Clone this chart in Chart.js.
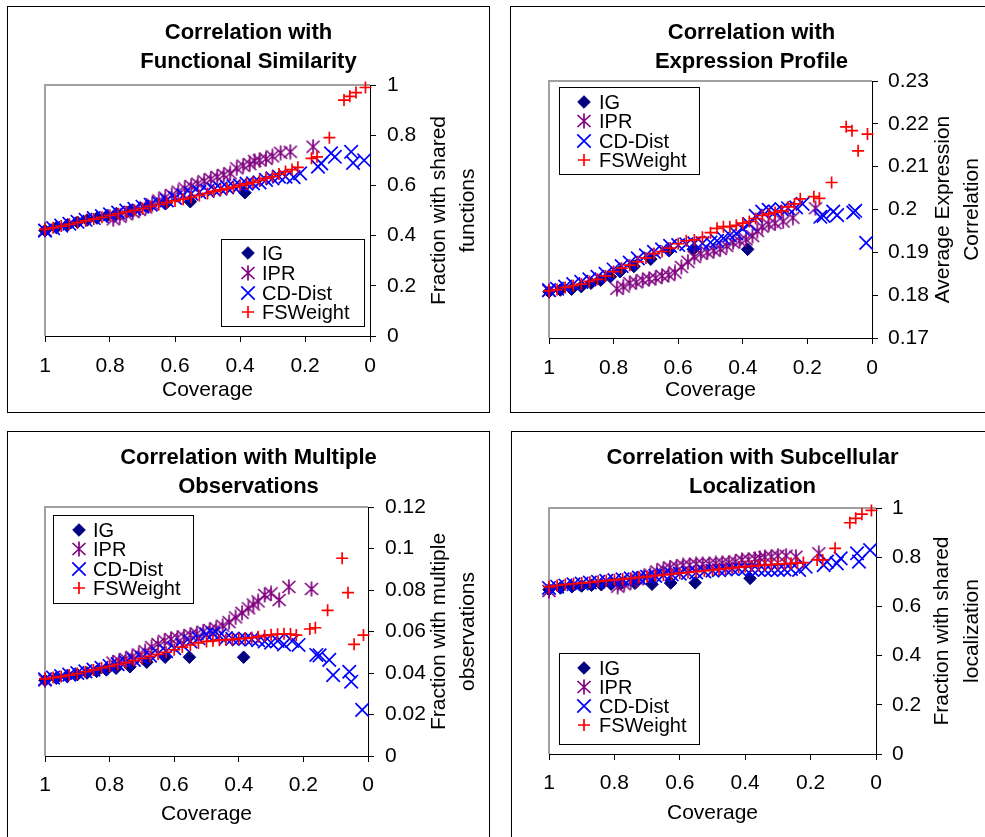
<!DOCTYPE html>
<html>
<head>
<meta charset="utf-8">
<title>Correlation with coverage</title>
<script src="https://cdn.jsdelivr.net/npm/chart.js@4.4.0/dist/chart.umd.min.js"></script>
<style>
  html, body { margin: 0; padding: 0; background: #fff; }
  body { width: 985px; height: 837px; position: relative; overflow: hidden; }
  .panel { position: absolute; border: 1px solid #000; background: #fff; }
  .panel canvas { display: block; }
</style>
</head>
<body>
<div class="panel" style="left:7px;top:6px;"><canvas id="c-func" width="481" height="405"></canvas></div>
<div class="panel" style="left:510px;top:6px;"><canvas id="c-expr" width="481" height="405"></canvas></div>
<div class="panel" style="left:7px;top:431px;"><canvas id="c-obs" width="481" height="405"></canvas></div>
<div class="panel" style="left:511px;top:431px;"><canvas id="c-loc" width="481" height="405"></canvas></div>
<script>
// Series names (legend order)
const seriesNames = ['IG', 'IPR', 'CD-Dist', 'FSWeight'];

// Coverage of each method (shared by all four panels)
const igCoverage = [1.0, 0.965, 0.93, 0.9, 0.87, 0.84, 0.81, 0.78, 0.737, 0.685, 0.628, 0.553, 0.385];
const iprCoverage = [1.0, 0.79, 0.77, 0.75, 0.73, 0.71, 0.69, 0.67, 0.65, 0.63, 0.61, 0.59, 0.57, 0.55, 0.53,
  0.51, 0.49, 0.47, 0.45, 0.43, 0.41, 0.39, 0.37, 0.355, 0.34, 0.32, 0.30, 0.275, 0.245, 0.175];
const cdCoverage = [1.0, 0.975, 0.95, 0.925, 0.9, 0.875, 0.85, 0.825, 0.8, 0.775, 0.75, 0.725, 0.7, 0.675, 0.65,
  0.625, 0.6, 0.575, 0.55, 0.525, 0.5, 0.48, 0.46, 0.44, 0.42, 0.4, 0.38, 0.36, 0.34, 0.32, 0.3, 0.28, 0.26,
  0.235, 0.215, 0.16, 0.15, 0.12, 0.108, 0.058, 0.052, 0.018];
const fsCoverage = [1.0, 0.975, 0.95, 0.925, 0.9, 0.875, 0.85, 0.825, 0.8, 0.775, 0.75, 0.725, 0.7, 0.675, 0.65,
  0.625, 0.6, 0.575, 0.55, 0.525, 0.5, 0.48, 0.46, 0.44, 0.42, 0.4, 0.38, 0.36, 0.34, 0.32, 0.3, 0.28, 0.26,
  0.24, 0.222, 0.18, 0.163, 0.125, 0.08, 0.062, 0.043, 0.014];

// Functional similarity
const igFunc = [0.42, 0.432, 0.443, 0.453, 0.462, 0.47, 0.478, 0.487, 0.5, 0.515, 0.528, 0.535, 0.571];
const iprFunc = [0.422, 0.465, 0.475, 0.485, 0.494, 0.502, 0.512, 0.525, 0.54, 0.552, 0.562, 0.575, 0.588, 0.598,
  0.607, 0.617, 0.625, 0.634, 0.642, 0.648, 0.668, 0.679, 0.685, 0.697, 0.70, 0.706, 0.716, 0.73, 0.734, 0.754];
const cdFunc = [0.42, 0.43, 0.44, 0.447, 0.455, 0.463, 0.47, 0.478, 0.485, 0.492, 0.5, 0.507, 0.515, 0.523, 0.53,
  0.54, 0.55, 0.56, 0.567, 0.573, 0.578, 0.583, 0.587, 0.592, 0.596, 0.6, 0.607, 0.608, 0.612, 0.622, 0.628,
  0.635, 0.635, 0.633, 0.648, 0.675, 0.688, 0.728, 0.714, 0.734, 0.69, 0.70];
const fsFunc = [0.425, 0.431, 0.438, 0.445, 0.452, 0.459, 0.466, 0.473, 0.48, 0.487, 0.494, 0.5, 0.508, 0.516,
  0.524, 0.531, 0.538, 0.545, 0.552, 0.56, 0.568, 0.576, 0.582, 0.587, 0.593, 0.6, 0.606, 0.612, 0.62, 0.628,
  0.635, 0.645, 0.655, 0.663, 0.672, 0.708, 0.714, 0.79, 0.94, 0.955, 0.97, 0.99];

// Expression profile
const igExpr = [0.1808, 0.1812, 0.1814, 0.182, 0.1828, 0.1835, 0.1843, 0.1855, 0.1867, 0.1884, 0.1904, 0.1907, 0.1907];
const iprExpr = [0.181, 0.1815, 0.182, 0.1828, 0.183, 0.1835, 0.1838, 0.184, 0.1845, 0.1847, 0.1853, 0.1866, 0.1878,
  0.1889, 0.1897, 0.19, 0.1904, 0.1908, 0.1915, 0.1923, 0.1927, 0.193, 0.1938, 0.195, 0.196, 0.1965, 0.1968,
  0.1972, 0.1981, 0.2003];
const cdExpr = [0.1812, 0.1815, 0.182, 0.1826, 0.1831, 0.1837, 0.1843, 0.185, 0.186, 0.1868, 0.1876, 0.1886,
  0.1893, 0.1901, 0.1907, 0.1915, 0.1917, 0.1919, 0.1921, 0.1921, 0.1923, 0.1927, 0.1933, 0.194, 0.1944, 0.1955,
  0.1966, 0.1985, 0.1995, 0.1999, 0.1995, 0.2001, 0.2003, 0.2005, 0.2013, 0.1983, 0.1985, 0.1995, 0.1987,
  0.1993, 0.1997, 0.1922];
const fsExpr = [0.181, 0.1813, 0.1818, 0.1822, 0.1826, 0.1832, 0.1837, 0.1845, 0.1855, 0.1863, 0.187, 0.1878,
  0.1887, 0.1897, 0.1902, 0.191, 0.192, 0.1927, 0.1929, 0.1935, 0.1946, 0.1956, 0.196, 0.196, 0.1963, 0.1968,
  0.1972, 0.1979, 0.1986, 0.199, 0.1993, 0.1997, 0.2006, 0.2013, 0.2025, 0.203, 0.2026, 0.2063, 0.2193, 0.2184,
  0.2137, 0.2176];

// Multiple observations
const igObs = [0.0365, 0.0375, 0.0385, 0.0392, 0.04, 0.0408, 0.0415, 0.0423, 0.043, 0.0452, 0.0476, 0.0476, 0.0476];
const iprObs = [0.0365, 0.045, 0.0458, 0.0468, 0.0478, 0.049, 0.0505, 0.0525, 0.054, 0.0555, 0.0563, 0.057, 0.0575,
  0.0583, 0.059, 0.0599, 0.0607, 0.0615, 0.0628, 0.0645, 0.0668, 0.069, 0.0712, 0.073, 0.0745, 0.0776, 0.0784,
  0.0752, 0.0815, 0.0805];
const cdObs = [0.037, 0.0378, 0.0385, 0.0392, 0.04, 0.0408, 0.0416, 0.0425, 0.0434, 0.0443, 0.0453, 0.0463, 0.0473,
  0.0484, 0.0494, 0.0505, 0.052, 0.0535, 0.0552, 0.0568, 0.0585, 0.059, 0.058, 0.0568, 0.0565, 0.0562, 0.0565,
  0.0562, 0.0558, 0.0552, 0.0546, 0.0555, 0.0538, 0.0554, 0.0535, 0.0487, 0.0485, 0.0463, 0.039, 0.0406, 0.0358,
  0.0222];
const fsObs = [0.0372, 0.0378, 0.0383, 0.039, 0.0397, 0.0406, 0.0415, 0.0424, 0.0432, 0.0441, 0.045, 0.046, 0.047,
  0.048, 0.049, 0.05, 0.0512, 0.0525, 0.0535, 0.0545, 0.0552, 0.0555, 0.0558, 0.056, 0.0562, 0.0565, 0.0567,
  0.057, 0.0575, 0.058, 0.0584, 0.0587, 0.0589, 0.0588, 0.0583, 0.0612, 0.0618, 0.0702, 0.0953, 0.0787, 0.0538,
  0.0583];

// Subcellular localization
const igLoc = [0.668, 0.675, 0.68, 0.683, 0.686, 0.688, 0.69, 0.692, 0.694, 0.69, 0.695, 0.696, 0.714];
const iprLoc = [0.663, 0.68, 0.69, 0.7, 0.71, 0.72, 0.73, 0.742, 0.752, 0.758, 0.762, 0.767, 0.768, 0.772, 0.772,
  0.772, 0.775, 0.776, 0.778, 0.782, 0.789, 0.79, 0.793, 0.797, 0.8, 0.802, 0.806, 0.806, 0.802, 0.816];
const cdLoc = [0.675, 0.68, 0.685, 0.69, 0.693, 0.697, 0.7, 0.704, 0.707, 0.71, 0.714, 0.717, 0.72, 0.724, 0.727,
  0.73, 0.733, 0.736, 0.738, 0.742, 0.745, 0.747, 0.75, 0.752, 0.754, 0.752, 0.75, 0.749, 0.748, 0.748, 0.748,
  0.75, 0.752, 0.748, 0.761, 0.768, 0.782, 0.775, 0.795, 0.816, 0.782, 0.829];
const fsLoc = [0.68, 0.685, 0.689, 0.692, 0.695, 0.698, 0.702, 0.705, 0.708, 0.711, 0.714, 0.718, 0.721, 0.725,
  0.728, 0.731, 0.735, 0.738, 0.741, 0.745, 0.748, 0.751, 0.754, 0.757, 0.76, 0.762, 0.764, 0.766, 0.768, 0.77,
  0.772, 0.773, 0.775, 0.776, 0.778, 0.789, 0.789, 0.836, 0.94, 0.958, 0.975, 0.99];

// Tick values
const coverageTicks = [0, 0.2, 0.4, 0.6, 0.8, 1];
const fractionTicks = [0, 0.2, 0.4, 0.6, 0.8, 1];
const exprTicks = [0.17, 0.18, 0.19, 0.2, 0.21, 0.22, 0.23];
const obsTicks = [0, 0.02, 0.04, 0.06, 0.08, 0.1, 0.12];

const FONT = "Arial, 'Liberation Sans', sans-serif";
const CANVAS_W = 481;
const CANVAS_H = 405;
const AXIS_SIZE = 21;
const HALF_LINE = (AXIS_SIZE * 1.2) / 2;

// Excel-style star marker: an X with a vertical bar
const makeStar = (color) => {
  const c = document.createElement('canvas');
  c.width = 16;
  c.height = 16;
  const g = c.getContext('2d');
  g.strokeStyle = color;
  g.lineWidth = 1.7;
  g.beginPath();
  g.moveTo(1.5, 2); g.lineTo(14.5, 14);
  g.moveTo(14.5, 2); g.lineTo(1.5, 14);
  g.moveTo(8, 0.5); g.lineTo(8, 15.5);
  g.stroke();
  return c;
};

const seriesStyles = [
  { pointStyle: 'rectRot', pointRadius: 6.3, borderColor: '#000080', backgroundColor: '#000080', borderWidth: 1, order: 4 },
  { pointStyle: makeStar('#800080'), pointRadius: 8, borderColor: '#800080', backgroundColor: '#800080', borderWidth: 1.7, order: 3 },
  { pointStyle: 'crossRot', pointRadius: 9.5, borderColor: '#0000ff', backgroundColor: '#0000ff', borderWidth: 1.7, order: 2 },
  { pointStyle: 'cross', pointRadius: 6, borderColor: '#ff0000', backgroundColor: '#ff0000', borderWidth: 1.7, order: 1 },
];
const coverages = [igCoverage, iprCoverage, cdCoverage, fsCoverage];

const panels = [
  {
    id: 'c-func', title: ['Correlation with', 'Functional Similarity'], yTitle: ['Fraction with shared', 'functions'],
    yMin: 0, yMax: 1, yTicks: fractionTicks, values: [igFunc, iprFunc, cdFunc, fsFunc],
    area: { left: 37, top: 78, right: 362, bottom: 329 }, tickY: 359, coverageY: 383, yLabelX: 379, yTitleX: [431, 460],
    legend: { x: 213, y: 232, w: 143, h: 87, rows: [246, 266, 286, 305], symX: 240, textX: 254 },
  },
  {
    id: 'c-expr', title: ['Correlation with', 'Expression Profile'], yTitle: ['Average Expression', 'Correlation'],
    yMin: 0.17, yMax: 0.23, yTicks: exprTicks, values: [igExpr, iprExpr, cdExpr, fsExpr],
    area: { left: 38, top: 74, right: 361, bottom: 331 }, tickY: 361, coverageY: 383, yLabelX: 377, yTitleX: [432, 461],
    legend: { x: 48, y: 80, w: 140, h: 87, rows: [95, 114, 134, 153], symX: 73, textX: 88 },
  },
  {
    id: 'c-obs', title: ['Correlation with Multiple', 'Observations'], yTitle: ['Fraction with multiple', 'observations'],
    yMin: 0, yMax: 0.12, yTicks: obsTicks, values: [igObs, iprObs, cdObs, fsObs],
    area: { left: 37, top: 75, right: 360, bottom: 324 }, tickY: 353, coverageY: 382, yLabelX: 377, yTitleX: [431, 460],
    legend: { x: 45, y: 83, w: 140, h: 88, rows: [98, 117, 137, 156], symX: 71, textX: 85 },
  },
  {
    id: 'c-loc', title: ['Correlation with Subcellular', 'Localization'], yTitle: ['Fraction with shared', 'localization'],
    yMin: 0, yMax: 1, yTicks: fractionTicks, values: [igLoc, iprLoc, cdLoc, fsLoc],
    area: { left: 37, top: 76, right: 364, bottom: 322 }, tickY: 351, coverageY: 381, yLabelX: 380, yTitleX: [430, 460],
    legend: { x: 47, y: 221, w: 140, h: 91, rows: [236, 255, 274, 293], symX: 72, textX: 87 },
  },
];

const fmt = (v) => String(Math.round(v * 1000) / 1000);

// Gray frame on the top and left of the plot area
const plotFrame = {
  id: 'plotFrame',
  beforeDatasetsDraw(chart) {
    const { ctx, chartArea: a } = chart;
    ctx.save();
    ctx.strokeStyle = '#a0a0a0';
    ctx.lineWidth = 2;
    ctx.beginPath();
    ctx.moveTo(a.left, a.bottom);
    ctx.lineTo(a.left, a.top);
    ctx.lineTo(a.right, a.top);
    ctx.stroke();
    ctx.restore();
  },
};

// Right-hand axis title, reading bottom to top
const yTitle = {
  id: 'yTitle',
  afterDraw(chart, args, opts) {
    const { ctx, chartArea: a } = chart;
    const cy = (a.top + a.bottom) / 2;
    ctx.save();
    ctx.font = `${AXIS_SIZE}px ${FONT}`;
    ctx.fillStyle = '#000';
    ctx.textAlign = 'center';
    ctx.textBaseline = 'middle';
    opts.lines.forEach((line, i) => {
      ctx.save();
      ctx.translate(opts.x[i], cy);
      ctx.rotate(-Math.PI / 2);
      ctx.fillText(line, 0, 0);
      ctx.restore();
    });
    ctx.restore();
  },
};

// Boxed legend placed inside the plot
const boxLegend = {
  id: 'boxLegend',
  afterDraw(chart, args, opts) {
    const { ctx } = chart;
    ctx.save();
    ctx.fillStyle = '#fff';
    ctx.fillRect(opts.x, opts.y, opts.w, opts.h);
    ctx.strokeStyle = '#000';
    ctx.lineWidth = 1;
    ctx.strokeRect(opts.x + 0.5, opts.y + 0.5, opts.w, opts.h);
    ctx.font = `20px ${FONT}`;
    ctx.textBaseline = 'middle';
    ctx.textAlign = 'left';
    chart.data.datasets.forEach((ds, i) => {
      const y = opts.rows[i];
      ctx.fillStyle = ds.backgroundColor;
      ctx.strokeStyle = ds.borderColor;
      ctx.lineWidth = ds.borderWidth;
      Chart.helpers.drawPoint(ctx, {
        pointStyle: ds.pointStyle, radius: ds.pointRadius, borderWidth: ds.borderWidth, rotation: 0,
      }, opts.symX, y);
      ctx.fillStyle = '#000';
      ctx.fillText(ds.label, opts.textX, y + 1);
    });
    ctx.restore();
  },
};

panels.forEach((p) => {
  const datasets = seriesNames.map((name, s) => ({
    label: name,
    data: coverages[s].map((x, i) => ({ x, y: p.values[s][i] })),
    showLine: false,
    clip: false,
    ...seriesStyles[s],
  }));

  new Chart(document.getElementById(p.id), {
    type: 'scatter',
    data: { datasets },
    plugins: [plotFrame, yTitle, boxLegend],
    options: {
      responsive: false,
      animation: false,
      events: [],
      // equal side padding keeps the chart title centred on the whole panel
      layout: { padding: { left: p.area.left, top: 0, right: p.area.left, bottom: 0 } },
      plugins: {
        legend: { display: false },
        tooltip: { enabled: false },
        title: {
          display: true,
          text: p.title,
          color: '#000',
          font: { family: FONT, size: 22, weight: 'bold', lineHeight: '29px' },
          padding: { top: 11.5, bottom: p.area.top - 69.5 },
        },
        yTitle: { lines: p.yTitle, x: p.yTitleX },
        boxLegend: p.legend,
      },
      scales: {
        x: {
          type: 'linear',
          reverse: true,
          min: 0,
          max: 1,
          afterBuildTicks: (axis) => { axis.ticks = coverageTicks.map((value) => ({ value })); },
          afterFit: (axis) => { axis.height = CANVAS_H - p.area.bottom; },
          grid: { drawOnChartArea: false, color: '#000', tickLength: 6 },
          border: { color: '#000', width: 1 },
          ticks: {
            color: '#000', font: { family: FONT, size: AXIS_SIZE }, maxRotation: 0, autoSkip: false,
            padding: p.tickY - p.area.bottom - 6 - HALF_LINE, callback: fmt,
          },
          title: {
            display: true, text: 'Coverage', color: '#000', font: { family: FONT, size: AXIS_SIZE },
            padding: { top: 0, bottom: CANVAS_H - p.coverageY - HALF_LINE },
          },
        },
        y: {
          type: 'linear',
          position: 'right',
          min: p.yMin,
          max: p.yMax,
          afterBuildTicks: (axis) => { axis.ticks = p.yTicks.map((value) => ({ value })); },
          afterFit: (axis) => { axis.width = CANVAS_W - p.area.left - p.area.right; },
          grid: { drawOnChartArea: false, color: '#000', tickLength: 6 },
          border: { color: '#000', width: 1 },
          ticks: {
            color: '#000', font: { family: FONT, size: AXIS_SIZE }, autoSkip: false,
            padding: p.yLabelX - p.area.right - 6, callback: fmt,
          },
        },
      },
    },
  });
});
</script>
</body>
</html>
